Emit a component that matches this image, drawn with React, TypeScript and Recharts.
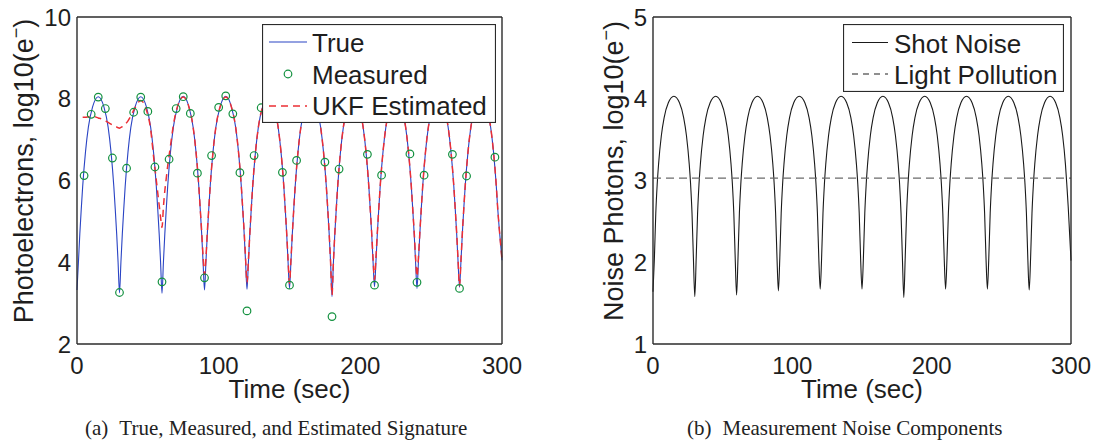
import React from "react";
import { ComposedChart, Line, Scatter, XAxis, YAxis, Legend } from "recharts";

// time grid (sec) shared by the true signal, the UKF estimate and the shot noise
const sampleTimes = [
  0, 1, 2, 3, 4, 6, 8, 11, 15, 19, 22, 24, 26, 27, 28, 29,
  30, 31, 32, 33, 34, 36, 38, 41, 45, 49, 52, 54, 56, 57, 58, 59,
  60, 61, 62, 63, 64, 66, 68, 71, 75, 79, 82, 84, 86, 87, 88, 89,
  90, 91, 92, 93, 94, 96, 98, 101, 105, 109, 112, 114, 116, 117, 118, 119,
  120, 121, 122, 123, 124, 126, 128, 131, 135, 139, 142, 144, 146, 147, 148, 149,
  150, 151, 152, 153, 154, 156, 158, 161, 165, 169, 172, 174, 176, 177, 178, 179,
  180, 181, 182, 183, 184, 186, 188, 191, 195, 199, 202, 204, 206, 207, 208, 209,
  210, 211, 212, 213, 214, 216, 218, 221, 225, 229, 232, 234, 236, 237, 238, 239,
  240, 241, 242, 243, 244, 246, 248, 251, 255, 259, 262, 264, 266, 267, 268, 269,
  270, 271, 272, 273, 274, 276, 278, 281, 285, 289, 292, 294, 296, 297, 298, 299,
  300,
];

const trueSignal = [
  3.32, 4.0, 4.7, 5.3, 5.85, 6.7, 7.3, 7.8, 8.05, 7.8, 7.3, 6.7, 5.85, 5.3, 4.7, 4.0,
  3.25, 4.0, 4.7, 5.3, 5.85, 6.7, 7.3, 7.8, 8.05, 7.8, 7.3, 6.7, 5.85, 5.3, 4.7, 4.0,
  3.24, 4.0, 4.7, 5.3, 5.85, 6.7, 7.3, 7.8, 8.06, 7.8, 7.3, 6.7, 5.85, 5.3, 4.7, 4.0,
  3.32, 4.0, 4.7, 5.3, 5.85, 6.7, 7.3, 7.8, 8.06, 7.8, 7.3, 6.7, 5.85, 5.3, 4.7, 4.0,
  3.34, 4.0, 4.7, 5.3, 5.85, 6.7, 7.3, 7.8, 8.05, 7.8, 7.3, 6.7, 5.85, 5.3, 4.7, 4.0,
  3.36, 4.0, 4.7, 5.3, 5.85, 6.7, 7.3, 7.8, 8.05, 7.8, 7.3, 6.7, 5.85, 5.3, 4.7, 4.0,
  3.16, 4.0, 4.7, 5.3, 5.85, 6.7, 7.3, 7.8, 8.05, 7.8, 7.3, 6.7, 5.85, 5.3, 4.7, 4.0,
  3.4, 4.0, 4.7, 5.3, 5.85, 6.7, 7.3, 7.8, 8.05, 7.8, 7.3, 6.7, 5.85, 5.3, 4.7, 4.0,
  3.36, 4.0, 4.7, 5.3, 5.85, 6.7, 7.3, 7.8, 8.05, 7.8, 7.3, 6.7, 5.85, 5.3, 4.7, 4.0,
  3.39, 4.0, 4.7, 5.3, 5.85, 6.7, 7.3, 7.8, 8.05, 7.8, 7.3, 6.7, 5.85, 5.3, 4.85, 4.45,
  4.05,
];

const ukfEstimate = [
  null, null, null, null, 7.55, 7.55, 7.56, 7.57, 7.53, 7.48, 7.42, 7.38, 7.34, 7.32, 7.31, 7.29,
  7.28, 7.3, 7.32, 7.35, 7.38, 7.46, 7.58, 7.78, 7.96, 7.72, 7.25, 6.6, 6.0, 5.7, 5.4, 5.1,
  4.85, 5.35, 5.75, 6.05, 6.35, 6.85, 7.35, 7.82, 8.04, 7.8, 7.3, 6.7, 5.85, 5.3, 4.75, 4.15,
  3.7, 4.1, 4.75, 5.3, 5.85, 6.7, 7.3, 7.8, 8.04, 7.8, 7.3, 6.7, 5.85, 5.3, 4.75, 4.1,
  3.5, 4.05, 4.7, 5.3, 5.85, 6.7, 7.3, 7.8, 8.04, 7.8, 7.3, 6.7, 5.85, 5.3, 4.72, 4.05,
  3.48, 4.05, 4.7, 5.3, 5.85, 6.7, 7.3, 7.8, 8.04, 7.8, 7.3, 6.7, 5.85, 5.3, 4.7, 4.0,
  3.2, 4.0, 4.7, 5.3, 5.85, 6.7, 7.3, 7.8, 8.04, 7.8, 7.3, 6.7, 5.85, 5.3, 4.72, 4.08,
  3.57, 4.1, 4.72, 5.3, 5.85, 6.7, 7.3, 7.8, 8.04, 7.8, 7.3, 6.7, 5.85, 5.3, 4.75, 4.12,
  3.65, 4.12, 4.72, 5.3, 5.85, 6.7, 7.3, 7.8, 8.04, 7.8, 7.3, 6.7, 5.85, 5.3, 4.72, 4.05,
  3.42, 4.02, 4.7, 5.3, 5.85, 6.7, 7.3, 7.8, 8.04, 7.8, 7.3, 6.7, 5.85, 5.3, 4.85, 4.45,
  4.05,
];

const shotNoise = [
  1.64, 2.05, 2.6, 2.95, 3.2, 3.55, 3.77, 3.95, 4.03, 3.95, 3.77, 3.55, 3.2, 2.95, 2.6, 2.05,
  1.58, 2.05, 2.6, 2.95, 3.2, 3.55, 3.77, 3.95, 4.03, 3.95, 3.77, 3.55, 3.2, 2.95, 2.6, 2.05,
  1.6, 2.05, 2.6, 2.95, 3.2, 3.55, 3.77, 3.95, 4.03, 3.95, 3.77, 3.55, 3.2, 2.95, 2.6, 2.05,
  1.65, 2.05, 2.6, 2.95, 3.2, 3.55, 3.77, 3.95, 4.03, 3.95, 3.77, 3.55, 3.2, 2.95, 2.6, 2.05,
  1.67, 2.05, 2.6, 2.95, 3.2, 3.55, 3.77, 3.95, 4.03, 3.95, 3.77, 3.55, 3.2, 2.95, 2.6, 2.05,
  1.67, 2.05, 2.6, 2.95, 3.2, 3.55, 3.77, 3.95, 4.03, 3.95, 3.77, 3.55, 3.2, 2.95, 2.6, 2.05,
  1.57, 2.05, 2.6, 2.95, 3.2, 3.55, 3.77, 3.95, 4.03, 3.95, 3.77, 3.55, 3.2, 2.95, 2.6, 2.05,
  1.67, 2.05, 2.6, 2.95, 3.2, 3.55, 3.77, 3.95, 4.03, 3.95, 3.77, 3.55, 3.2, 2.95, 2.6, 2.05,
  1.67, 2.05, 2.6, 2.95, 3.2, 3.55, 3.77, 3.95, 4.03, 3.95, 3.77, 3.55, 3.2, 2.95, 2.6, 2.05,
  1.66, 2.05, 2.6, 2.95, 3.2, 3.55, 3.77, 3.95, 4.03, 3.95, 3.77, 3.55, 3.2, 2.95, 2.68, 2.35,
  2.02,
];

const measureTimes = [
  5, 10, 15, 20, 25, 30, 35, 40, 45, 50, 55, 60, 65, 70, 75, 80, 85, 90, 95, 100,
  105, 110, 115, 120, 125, 130, 135, 140, 145, 150, 155, 160, 165, 170, 175, 180, 185, 190, 195, 200,
  205, 210, 215, 220, 225, 230, 235, 240, 245, 250, 255, 260, 265, 270, 275, 280, 285, 290, 295,
];
const measured = [
  6.12, 7.62, 8.04, 7.76, 6.55, 3.26, 6.3, 7.67, 8.04, 7.69, 6.33, 3.52, 6.52, 7.76, 8.05, 7.64, 6.18, 3.62, 6.61, 7.79,
  8.07, 7.63, 6.19, 2.81, 6.61, 7.78, 8.05, 7.7, 6.2, 3.44, 6.49, 7.75, 8.04, 7.66, 6.45, 2.67, 6.28, 7.72, 8.05, 7.78,
  6.64, 3.44, 6.13, 7.74, 8.04, 7.7, 6.65, 3.51, 6.13, 7.72, 8.05, 7.76, 6.64, 3.36, 6.11, 7.7, 8.04, 7.78, 6.57,
];

const lightTimes = [0, 300];
const lightPollution = [3.03, 3.03];

const timeTicks = [0, 100, 200, 300];
const signalTicks = [2, 4, 6, 8, 10];
const noiseTicks = [1, 2, 3, 4, 5];

const BLUE = "#2a44c4";
const RED = "#ec2f35";
const GREEN = "#13913f";
const AXIS = "#2b2b2b";
const FONT = "'Liberation Sans', Arial, sans-serif";
const SERIF = "'Liberation Serif', 'Times New Roman', serif";

const signalRows = sampleTimes.map((t, i) => ({ t, truth: trueSignal[i], ukf: ukfEstimate[i] }));
const noiseRows = sampleTimes.map((t, i) => ({ t, shot: shotNoise[i] }));
const measuredRows = measureTimes.map((t, i) => ({ t, v: measured[i] }));
const lightRows = lightTimes.map((t, i) => ({ t, light: lightPollution[i] }));

const tickStyle = { fontSize: 24, fill: "#1e1e1e", fontFamily: FONT };
const axisLine = { stroke: AXIS, strokeWidth: 1.4 };
const tickLine = { stroke: AXIS, strokeWidth: 1.2 };

const YLabel = ({ x, y, text }: { x: number; y: number; text: string }) => (
  <text
    x={0}
    y={0}
    transform={`translate(${x},${y}) rotate(-90)`}
    textAnchor="middle"
    fontSize={27}
    fontFamily={FONT}
    fill="#1e1e1e"
  >
    {text}
    <tspan dy={-11} fontSize={18}>−</tspan>
    <tspan dy={11}>)</tspan>
  </text>
);

const XLabel = ({ x }: { x: number }) => (
  <text x={x} y={398} textAnchor="middle" fontSize={26} fontFamily={FONT} fill="#1e1e1e">
    Time (sec)
  </text>
);

const SignalLegend = () => (
  <svg width={234} height={99} style={{ display: "block" }} fontFamily={FONT} fontSize={26} fill="#1e1e1e">
    <rect x={0.5} y={0.5} width={233} height={98} fill="#fff" stroke={AXIS} strokeWidth={1.2} />
    <line x1={7} x2={45} y1={18} y2={18} stroke={BLUE} strokeWidth={1.2} />
    <text x={50} y={28}>True</text>
    <circle cx={26} cy={50} r={3.8} fill="none" stroke={GREEN} strokeWidth={1.2} />
    <text x={50} y={59.5}>Measured</text>
    <line x1={7} x2={45} y1={82} y2={82} stroke={RED} strokeWidth={1.5} strokeDasharray="7 5" />
    <text x={50} y={90.5}>UKF Estimated</text>
  </svg>
);

const NoiseLegend = () => (
  <svg width={221} height={68} style={{ display: "block" }} fontFamily={FONT} fontSize={26} fill="#1e1e1e">
    <rect x={0.5} y={0.5} width={220} height={67} fill="#fff" stroke={AXIS} strokeWidth={1.2} />
    <line x1={9} x2={45} y1={18.5} y2={18.5} stroke="#1a1a1a" strokeWidth={1.1} />
    <text x={51} y={28.5}>Shot Noise</text>
    <line x1={9} x2={45} y1={50} y2={50} stroke="#6b6b6b" strokeWidth={1.3} strokeDasharray="6 5" />
    <text x={51} y={59.5}>Light Pollution</text>
  </svg>
);

const Circle = (props: any) => (
  <circle cx={props.cx} cy={props.cy} r={3.8} fill="none" stroke={GREEN} strokeWidth={1.2} />
);

const SignalChart = () => (
  <ComposedChart width={545} height={420} data={signalRows} margin={{ top: 17, right: 43, bottom: 26, left: 17 }}>
    <XAxis
      dataKey="t"
      type="number"
      domain={[0, 300]}
      ticks={timeTicks}
      tick={tickStyle}
      tickLine={false}
      tickSize={6}
      tickMargin={7}
      axisLine={axisLine}
      height={50}
      label={{ content: () => <XLabel x={289.5} /> }}
    />
    <XAxis xAxisId="bm" type="number" orientation="bottom" mirror domain={[0, 300]} ticks={timeTicks} tick={false} tickSize={5} tickLine={tickLine} axisLine={false} />
    <XAxis xAxisId="top" type="number" orientation="top" mirror domain={[0, 300]} ticks={timeTicks} tick={false} tickSize={5} tickLine={tickLine} axisLine={axisLine} />
    <YAxis
      type="number"
      domain={[2, 10]}
      ticks={signalTicks}
      tick={tickStyle}
      tickLine={false}
      tickSize={4}
      tickMargin={2}
      axisLine={axisLine}
      width={60}
      label={{ content: () => <YLabel x={33} y={171} text="Photoelectrons, log10(e" /> }}
    />
    <YAxis yAxisId="lm" type="number" orientation="left" mirror domain={[2, 10]} ticks={signalTicks} tick={false} tickSize={5} tickLine={tickLine} axisLine={false} />
    <YAxis yAxisId="rm" type="number" orientation="right" mirror domain={[2, 10]} ticks={signalTicks} tick={false} tickSize={5} tickLine={tickLine} axisLine={axisLine} />
    <Line type="monotone" dataKey="truth" stroke={BLUE} strokeWidth={1.1} dot={false} isAnimationActive={false} />
    <Scatter data={measuredRows} dataKey="v" shape={Circle} isAnimationActive={false} />
    <Line type="monotone" dataKey="ukf" stroke={RED} strokeWidth={1.5} strokeDasharray="7 5" dot={false} isAnimationActive={false} />
    <Legend
      content={SignalLegend}
      layout="vertical"
      align="center"
      verticalAlign="middle"
      wrapperStyle={{ position: "absolute", left: 262, top: 24, width: 234, height: 99, lineHeight: 0 }}
    />
  </ComposedChart>
);

const NoiseChart = () => (
  <ComposedChart width={525} height={420} data={noiseRows} margin={{ top: 17, right: 24, bottom: 26, left: 23 }}>
    <XAxis
      dataKey="t"
      type="number"
      domain={[0, 300]}
      ticks={timeTicks}
      tick={tickStyle}
      tickLine={false}
      tickSize={6}
      tickMargin={7}
      axisLine={axisLine}
      height={50}
      label={{ content: () => <XLabel x={292} /> }}
    />
    <XAxis xAxisId="bm" type="number" orientation="bottom" mirror domain={[0, 300]} ticks={timeTicks} tick={false} tickSize={5} tickLine={tickLine} axisLine={false} />
    <XAxis xAxisId="top" type="number" orientation="top" mirror domain={[0, 300]} ticks={timeTicks} tick={false} tickSize={5} tickLine={tickLine} axisLine={axisLine} />
    <YAxis
      type="number"
      domain={[1, 5]}
      ticks={noiseTicks}
      tick={tickStyle}
      tickLine={false}
      tickSize={4}
      tickMargin={2}
      axisLine={axisLine}
      width={60}
      label={{ content: () => <YLabel x={53} y={171} text="Noise Photons, log10(e" /> }}
    />
    <YAxis yAxisId="lm" type="number" orientation="left" mirror domain={[1, 5]} ticks={noiseTicks} tick={false} tickSize={5} tickLine={tickLine} axisLine={false} />
    <YAxis yAxisId="rm" type="number" orientation="right" mirror domain={[1, 5]} ticks={noiseTicks} tick={false} tickSize={5} tickLine={tickLine} axisLine={axisLine} />
    <Line type="monotone" dataKey="shot" stroke="#1a1a1a" strokeWidth={1.1} dot={false} isAnimationActive={false} />
    <Line data={lightRows} type="linear" dataKey="light" stroke="#6b6b6b" strokeWidth={1.3} strokeDasharray="8 5" dot={false} isAnimationActive={false} />
    <Legend
      content={NoiseLegend}
      layout="vertical"
      align="center"
      verticalAlign="middle"
      wrapperStyle={{ position: "absolute", left: 273, top: 24, width: 221, height: 68, lineHeight: 0 }}
    />
  </ComposedChart>
);

export default function App() {
  return (
    <div style={{ position: "absolute", left: 0, top: 0, width: 1095, height: 440, background: "#fff", overflow: "hidden" }}>
      <svg width={1095} height={440} style={{ position: "absolute", left: 0, top: 0 }} fontFamily={SERIF} fontSize={21} fill="#222">
        <text x={85} y={435}>
          (a)<tspan dx={11}>True, Measured, and Estimated Signature</tspan>
        </text>
        <text x={687} y={435}>
          (b)<tspan dx={11}>Measurement Noise Components</tspan>
        </text>
      </svg>
      <div style={{ position: "absolute", left: 0, top: 0 }}>
        <SignalChart />
      </div>
      <div style={{ position: "absolute", left: 570, top: 0 }}>
        <NoiseChart />
      </div>
    </div>
  );
}
